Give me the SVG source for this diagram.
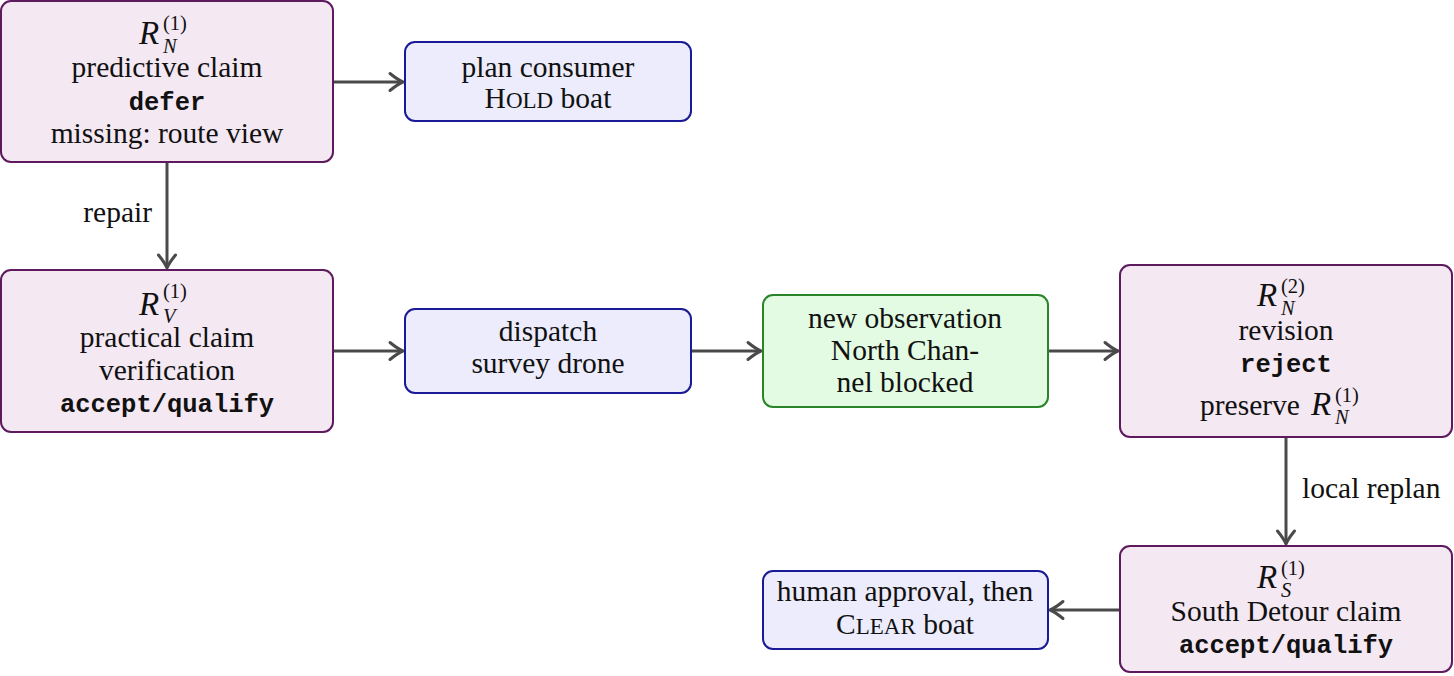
<svg xmlns="http://www.w3.org/2000/svg" width="1454" height="676" viewBox="0 0 1454 676">
<style>
.claim{fill:#f4e8f3;stroke:#5e1a5e;stroke-width:2}
.act{fill:#ececfc;stroke:#1a1a96;stroke-width:2}
.obs{fill:#e2fbe2;stroke:#2a842a;stroke-width:2}
text{font-family:"Liberation Serif","Times New Roman",serif;font-size:29.5px;fill:#111}
.c{text-anchor:middle}
.tt{font-family:"Liberation Mono","Courier New",monospace;font-weight:bold;font-size:25.5px}
.m{font-style:italic}
.R{font-style:italic;font-size:33px}
.s{font-size:20.5px;font-style:normal}
.sm{font-size:20.5px;font-style:italic}
.sc{font-size:23px}
.edge{stroke:#4a4a4a;stroke-width:3;fill:none;marker-end:url(#arr)}
</style>
<defs>
<marker id="arr" markerUnits="userSpaceOnUse" markerWidth="24" markerHeight="24" viewBox="-16 -12 18 24" refX="0" refY="0" orient="auto">
<path d="M-13,-8.5 Q-5,-2 0,0 Q-5,2 -13,8.5" fill="none" stroke="#4a4a4a" stroke-width="3" stroke-linecap="round" stroke-linejoin="round"/>
</marker>
</defs>
<rect width="1454" height="676" fill="#fff"/>
<g id="connectors">
<line class="edge" x1="333" y1="82" x2="403" y2="82"/>
<line class="edge" x1="167" y1="162" x2="167" y2="268"/>
<text x="152" y="222" text-anchor="end">repair</text>
<line class="edge" x1="333" y1="351" x2="403" y2="351"/>
<line class="edge" x1="691" y1="351" x2="761" y2="351"/>
<line class="edge" x1="1048" y1="351" x2="1118" y2="351"/>
<line class="edge" x1="1286" y1="437" x2="1286" y2="544"/>
<text x="1302" y="498">local replan</text>
<line class="edge" x1="1120" y1="610" x2="1050" y2="610"/>
</g>
<g id="n1">
<rect class="claim" x="1" y="1" width="332" height="161" rx="10"/>
<text x="139" y="44" class="R">R<tspan class="s" x="163" y="30">(1)</tspan><tspan class="sm" x="163" y="53">N</tspan></text>
<text x="167" y="77" class="c">predictive claim</text>
<text x="167" y="110" class="c tt">defer</text>
<text x="167" y="143" class="c">missing:  route view</text>
</g>
<g id="n2">
<rect class="act" x="405" y="42" width="286" height="79" rx="10"/>
<text x="548" y="77" class="c">plan consumer</text>
<text x="548" y="108" class="c">H<tspan class="sc">OLD</tspan> boat</text>
</g>
<g id="n3">
<rect class="claim" x="1" y="270" width="332" height="162" rx="10"/>
<text x="139" y="315" class="R">R<tspan class="s" x="163" y="298">(1)</tspan><tspan class="sm" x="163" y="323">V</tspan></text>
<text x="167" y="347" class="c">practical claim</text>
<text x="167" y="380" class="c">verification</text>
<text x="167" y="412" class="c tt">accept/qualify</text>
</g>
<g id="n4">
<rect class="act" x="405" y="309" width="286" height="84" rx="10"/>
<text x="548" y="341" class="c">dispatch</text>
<text x="548" y="373" class="c">survey drone</text>
</g>
<g id="n5">
<rect class="obs" x="763" y="295" width="285" height="112" rx="10"/>
<text x="905" y="328" class="c">new observation</text>
<text x="905" y="360" class="c">North Chan-</text>
<text x="905" y="392" class="c">nel blocked</text>
</g>
<g id="n6">
<rect class="claim" x="1120" y="265" width="332" height="172" rx="10"/>
<text x="1257" y="306" class="R">R<tspan class="s" x="1281" y="293">(2)</tspan><tspan class="sm" x="1281" y="315">N</tspan></text>
<text x="1286" y="340" class="c">revision</text>
<text x="1286" y="372" class="c tt">reject</text>
<text x="1200" y="415">preserve <tspan class="R" x="1311">R</tspan><tspan class="s" x="1335" y="402">(1)</tspan><tspan class="sm" x="1335" y="424">N</tspan></text>
</g>
<g id="n7">
<rect class="claim" x="1120" y="546" width="332" height="126" rx="10"/>
<text x="1257" y="588" class="R">R<tspan class="s" x="1281" y="575">(1)</tspan><tspan class="sm" x="1281" y="597">S</tspan></text>
<text x="1286" y="621" class="c">South Detour claim</text>
<text x="1286" y="653" class="c tt">accept/qualify</text>
</g>
<g id="n8">
<rect class="act" x="763" y="571" width="285" height="78" rx="10"/>
<text x="905" y="601" class="c">human approval, then</text>
<text x="905" y="634" class="c">C<tspan class="sc">LEAR</tspan> boat</text>
</g>
</svg>
